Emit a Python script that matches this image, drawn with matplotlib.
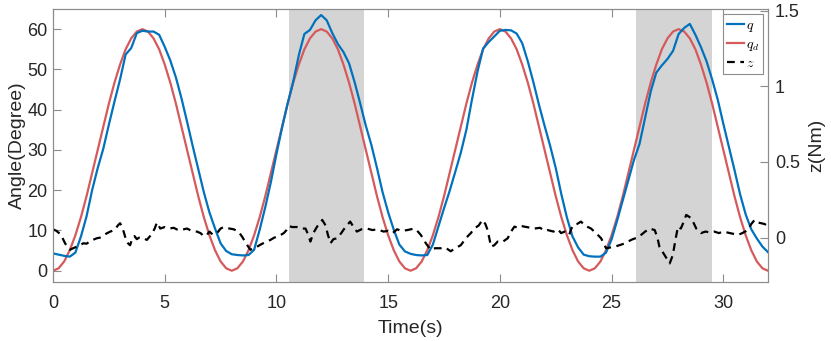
import numpy as np
import matplotlib
matplotlib.use("Agg")
from matplotlib import pyplot as plt

# sample step (s) for the q / q_d traces
dt = 0.25

q_d = [0, 0.6, 2.3, 5.1, 8.8, 13.3, 18.5, 24.2, 30, 35.8, 41.5, 46.7, 51.2, 55.0, 57.7, 59.4,
       60, 59.4, 57.7, 55.0, 51.2, 46.7, 41.5, 35.8, 30, 24.2, 18.5, 13.3, 8.8, 5.1, 2.3, 0.6,
       0, 0.6, 2.3, 5.1, 8.8, 13.3, 18.5, 24.2, 30, 35.8, 41.5, 46.7, 51.2, 55.0, 57.7, 59.4,
       60, 59.4, 57.7, 55.0, 51.2, 46.7, 41.5, 35.8, 30, 24.2, 18.5, 13.3, 8.8, 5.1, 2.3, 0.6,
       0, 0.6, 2.3, 5.1, 8.8, 13.3, 18.5, 24.2, 30, 35.8, 41.5, 46.7, 51.2, 55.0, 57.7, 59.4,
       60, 59.4, 57.7, 55.0, 51.2, 46.7, 41.5, 35.8, 30, 24.2, 18.5, 13.3, 8.8, 5.1, 2.3, 0.6,
       0, 0.6, 2.3, 5.1, 8.8, 13.3, 18.5, 24.2, 30, 35.8, 41.5, 46.7, 51.2, 55.0, 57.7, 59.4,
       60, 59.4, 57.7, 55.0, 51.2, 46.7, 41.5, 35.8, 30, 24.2, 18.5, 13.3, 8.8, 5.1, 2.3, 0.6,
       0]

q = [4.3, 4.0, 3.7, 3.5, 4.5, 8.5, 13.5, 20.0, 25.5, 30.3, 36.3, 42.0, 47.5, 53.7, 55.3, 59.0,
     59.6, 59.4, 59.4, 58.6, 55.6, 52.2, 48.0, 42.8, 37.0, 31.0, 25.2, 19.5, 14.5, 10.5, 6.8, 4.9,
     4.1, 3.9, 3.8, 3.9, 5.2, 10.2, 15.8, 22.0, 29.0, 35.5, 41.5, 47.0, 53.5, 58.8, 59.8, 62.2,
     63.5, 62.2, 59.0, 56.3, 54.3, 51.5, 46.8, 41.5, 36.0, 31.2, 25.5, 19.5, 14.5, 10.2, 6.5, 4.8,
     4.2, 3.9, 3.8, 3.9, 6.5, 11.0, 15.5, 19.8, 24.5, 29.3, 35.0, 42.5, 49.5, 55.2, 56.8, 58.2,
     59.6, 59.8, 59.7, 58.9, 56.5, 52.0, 46.8, 41.2, 36.0, 31.0, 25.5, 19.0, 13.2, 8.5, 5.8, 4.0,
     3.6, 3.5, 3.5, 4.5, 7.8, 12.5, 17.5, 22.5, 27.5, 31.5, 38.0, 44.5, 49.2, 51.0, 52.6, 54.6,
     58.8, 60.3, 61.3, 58.6, 55.5, 52.0, 47.5, 42.5, 36.5, 30.8, 25.0, 19.0, 14.0, 10.3, 8.0, 6.0,
     4.6]

z_t = [0.0, 0.15, 0.35, 0.55, 0.76, 0.9, 1.06, 1.2, 1.36, 1.5, 1.7, 1.96, 2.1, 2.3, 2.56, 2.75,
       2.9, 3.0, 3.1, 3.2, 3.3, 3.45, 3.55, 3.65, 3.75, 3.85, 4.0, 4.2, 4.4, 4.55, 4.65, 4.8,
       5.0, 5.2, 5.4, 5.6, 5.84, 6.0, 6.2, 6.44, 6.6, 6.75, 6.89, 7.0, 7.15, 7.34, 7.5, 7.64,
       7.9, 8.09, 8.3, 8.46, 8.65, 8.83, 9.0, 9.13, 9.3, 9.5, 9.73, 9.9, 10.1, 10.33, 10.45, 10.55,
       10.7, 10.92, 11.1, 11.3, 11.42, 11.52, 11.65, 11.82, 12.05, 12.2, 12.3, 12.42, 12.55, 12.72,
       12.9, 13.1, 13.3, 13.45, 13.6, 13.8, 14.05, 14.3, 14.5, 14.8, 15.0, 15.2, 15.4, 15.6, 15.86,
       16.16, 16.3, 16.46, 16.7, 16.9, 17.1, 17.35, 17.55, 17.8, 18.0, 18.25, 18.5, 18.7, 18.85,
       19.05, 19.22, 19.35, 19.45, 19.55, 19.6, 19.75, 19.9, 20.1, 20.35, 20.5, 20.65, 20.8, 20.95,
       21.2, 21.54, 21.8, 22.0, 22.14, 22.4, 22.6, 22.74, 22.9, 23.1, 23.2, 23.3, 23.45, 23.63,
       23.8, 24.08, 24.3, 24.53, 24.75, 24.95, 25.13, 25.35, 25.55, 25.73, 25.95, 26.15, 26.32,
       26.5, 26.7, 26.93, 27.05, 27.14, 27.37, 27.6, 27.74, 27.85, 27.97, 28.1, 28.2, 28.34, 28.57,
       28.79, 29.0, 29.2, 29.4, 29.6, 29.8, 30.0, 30.2, 30.45, 30.66, 30.85, 31.1, 31.25, 31.4,
       31.55, 31.7, 31.85, 32.0]
z = [0.055, 0.045, 0.02, -0.04, -0.08, -0.07, -0.06, -0.05, -0.037, -0.04, -0.02, -0.004, 0.0, 0.02, 0.04, 0.05,
     0.08, 0.095, 0.07, 0.02, -0.03, -0.05, -0.005, 0.01, -0.01, 0.0, 0.0, -0.015, 0.02, 0.06, 0.1, 0.06,
     0.07, 0.06, 0.065, 0.05, 0.055, 0.06, 0.045, 0.04, 0.03, 0.01, 0.018, 0.04, 0.02, 0.03, 0.06, 0.07,
     0.06, 0.055, 0.04, 0.007, -0.04, -0.08, -0.07, -0.06, -0.045, -0.03, -0.015, 0.0, 0.01, 0.03, 0.05, 0.077,
     0.07, 0.07, 0.06, 0.06, 0.02, -0.026, 0.03, 0.073, 0.117, 0.08, 0.02, -0.037, -0.01, -0.004,
     0.03, 0.073, 0.106, 0.07, 0.04, 0.055, 0.06, 0.05, 0.055, 0.04, 0.045, 0.03, 0.055, 0.045, 0.05,
     0.06, 0.045, 0.018, -0.04, -0.08, -0.07, -0.07, -0.065, -0.09, -0.07, -0.05, 0.0, 0.03, 0.06,
     0.08, 0.117, 0.09, 0.05, -0.02, -0.06, -0.05, -0.026, -0.03, -0.004, 0.04, 0.073, 0.065, 0.077,
     0.07, 0.06, 0.065, 0.045, 0.05, 0.04, 0.055, 0.03, 0.04, 0.018, 0.06, 0.084, 0.09, 0.106,
     0.08, 0.06, 0.03, -0.004, -0.07, -0.065, -0.06, -0.05, -0.04, -0.026, -0.01, 0.0, 0.018,
     0.04, 0.06, 0.05, 0.0, -0.06, -0.115, -0.17, -0.115, -0.02, 0.073, 0.06, 0.095, 0.15, 0.128,
     0.06, 0.03, 0.04, 0.035, 0.04, 0.03, 0.04, 0.033, 0.025, 0.018, 0.03, 0.05, 0.09, 0.117,
     0.1, 0.095, 0.09, 0.073]

# disturbance windows (s)
shade = [(10.55, 13.9), (26.1, 29.5)]

t = np.arange(len(q)) * dt

plt.rcParams['font.family'] = ['Liberation Sans', 'DejaVu Sans']
plt.rcParams['mathtext.fontset'] = 'cm'

gray = '#8c8c8c'
txt = '#262626'

fig = plt.figure(figsize=(8.31, 3.41), dpi=100)
ax = fig.add_axes([0.0638, 0.173, 0.8604, 0.8006])
ax2 = ax.twinx()

for a, b in shade:
    ax.axvspan(a, b, color='#d4d4d4', lw=0, zorder=0)

l1, = ax.plot(t, q, color='#0072BD', lw=1.6, label='$q$', zorder=3)
l2, = ax.plot(t, q_d, color='#D45A5C', lw=1.6, label='$q_d$', zorder=2)
l3, = ax2.plot(z_t, z, color='k', lw=1.6, ls=(0, (3.5, 2.5)), label='$z$')

ax.set_xlim(0, 32)
ax.set_ylim(-2.8, 65)
ax2.set_ylim(-0.293, 1.51)
ax.set_xticks([0, 5, 10, 15, 20, 25, 30])
ax.set_yticks([0, 10, 20, 30, 40, 50, 60])
ax2.set_yticks([0, 0.5, 1, 1.5])
ax2.set_yticklabels(['0', '0.5', '1', '1.5'])

ax.tick_params(axis='both', direction='in', length=6, width=0.8, color=gray,
               labelsize=13, labelcolor=txt, top=True)
ax.tick_params(axis='x', pad=9)
ax.tick_params(axis='y', right=False, pad=4)
ax2.tick_params(axis='y', direction='in', length=6, width=0.8, color=gray,
                labelsize=13, labelcolor=txt, pad=5)
for a in (ax, ax2):
    for s in a.spines.values():
        s.set_color(gray)
        s.set_linewidth(0.8)

ax.set_xlabel('Time(s)', fontsize=14, color=txt, labelpad=6)
ax.set_ylabel('Angle(Degree)', fontsize=14, color=txt, labelpad=1)
ax2.set_ylabel('z(Nm)', fontsize=14, color=txt, labelpad=6)

leg = ax2.legend(handles=[l1, l2, l3], loc='upper right', fontsize=10,
                 handlelength=1.2, handletextpad=0.15, borderpad=0.3,
                 labelspacing=0.2, borderaxespad=0.35, fancybox=False, framealpha=1)
leg.get_frame().set_edgecolor(gray)
leg.get_frame().set_linewidth(0.8)

fig.savefig('out.png', dpi=100)
